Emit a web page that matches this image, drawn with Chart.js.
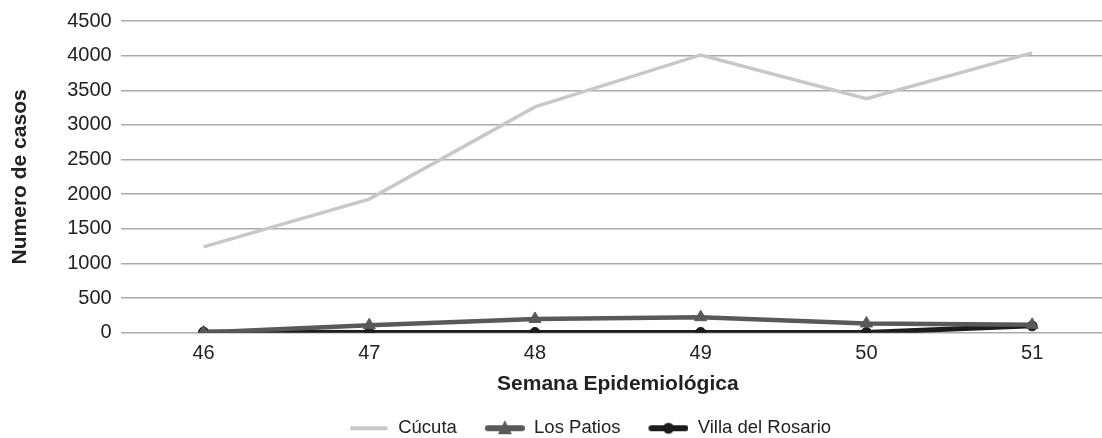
<!DOCTYPE html>
<html>
<head>
<meta charset="utf-8">
<script src="https://cdn.jsdelivr.net/npm/chart.js@4"></script>
<style>
  html, body { margin: 0; padding: 0; background: #fff; overflow: hidden; }
  #wrap { width: 1166px; height: 438px; }
</style>
</head>
<body>
<div id="wrap"><canvas id="casesChart" width="1166" height="438"></canvas></div>
<script>
// weeks and cases
const weeks = ['46', '47', '48', '49', '50', '51'];
const cucuta = [1240, 1930, 3260, 4010, 3380, 4040];
const losPatios = [5, 110, 200, 225, 135, 115];
const villaRosario = [10, 5, 5, 5, 5, 100];
const yTicks = [0, 500, 1000, 1500, 2000, 2500, 3000, 3500, 4000, 4500];

const FONT = '"Liberation Sans", Arial, sans-serif';

// little legend swatch: line with a marker in the middle (a bit of blank room on the left)
function swatch(color, width, marker) {
  const c = document.createElement('canvas');
  c.width = 46; c.height = 18;
  const g = c.getContext('2d');
  g.strokeStyle = color;
  g.fillStyle = color;
  g.lineWidth = width;
  g.lineCap = 'round';
  g.beginPath(); g.moveTo(9, 9); g.lineTo(43, 9); g.stroke();
  if (marker === 'triangle') {
    g.beginPath(); g.moveTo(26, 1); g.lineTo(33, 15); g.lineTo(19, 15); g.closePath(); g.fill();
  } else if (marker === 'circle') {
    g.beginPath(); g.arc(26, 9, 5.5, 0, Math.PI * 2); g.fill();
  }
  return c;
}

const swatches = [
  swatch('#c8c8c8', 4, null),
  swatch('#595959', 6, 'triangle'),
  swatch('#1c1c1c', 6, 'circle')
];

const ctx = document.getElementById('casesChart').getContext('2d');
const chart = new Chart(ctx, {
  type: 'line',
  data: {
    labels: weeks,
    datasets: [
      {
        label: 'Cúcuta',
        data: cucuta,
        borderColor: '#c8c8c8',
        backgroundColor: '#c8c8c8',
        borderWidth: 3.5,
        pointRadius: 0,
        tension: 0
      },
      {
        label: 'Los Patios',
        data: losPatios,
        borderColor: '#595959',
        backgroundColor: '#595959',
        borderWidth: 4.5,
        pointStyle: 'triangle',
        pointRadius: 7,
        pointBorderWidth: 1,
        tension: 0
      },
      {
        label: 'Villa del Rosario',
        data: villaRosario,
        borderColor: '#1c1c1c',
        backgroundColor: '#1c1c1c',
        borderWidth: 5,
        pointStyle: 'circle',
        pointRadius: 5,
        pointBorderWidth: 1,
        tension: 0
      }
    ]
  },
  options: {
    responsive: false,
    animation: false,
    layout: { padding: { top: 15, right: 0, left: 8, bottom: 0 } },
    plugins: {
      tooltip: { enabled: false },
      legend: {
        position: 'bottom',
        maxHeight: 41,
        labels: {
          usePointStyle: true,
          pointStyleWidth: 46,
          boxHeight: 18,
          color: '#222',
          font: { family: FONT, size: 18.5 },
          padding: 22,
          generateLabels: (ch) => ch.data.datasets.map((ds, i) => ({
            text: ds.label,
            pointStyle: swatches[i],
            datasetIndex: i,
            fontColor: '#222',
            lineWidth: 0,
            strokeStyle: 'transparent',
            fillStyle: 'transparent'
          }))
        }
      }
    },
    scales: {
      x: {
        offset: true,
        grid: { display: false, drawTicks: false },
        border: { display: false },
        ticks: { color: '#222', font: { family: FONT, size: 20 }, padding: 9 },
        title: {
          display: true,
          text: 'Semana Epidemiológica',
          color: '#222',
          font: { family: FONT, size: 21, weight: 'bold' },
          padding: { top: -3, bottom: 0 }
        }
      },
      y: {
        min: 0,
        max: 4500,
        afterBuildTicks: (axis) => { axis.ticks = yTicks.map(v => ({ value: v })); },
        grid: { color: '#aaaaaa', lineWidth: 1.5, drawTicks: false },
        border: { display: false },
        ticks: {
          color: '#222',
          font: { family: FONT, size: 20 },
          padding: 9,
          callback: (v) => String(v)
        },
        title: {
          display: true,
          text: 'Numero de casos',
          color: '#222',
          font: { family: FONT, size: 21, weight: 'bold' },
          padding: { top: 0, bottom: 25 }
        }
      },
      // empty strip on the right so the plot runs past the window edge like the original
      yRight: {
        position: 'right',
        grid: { display: false, drawTicks: false },
        border: { display: false },
        ticks: { display: false },
        afterFit: (axis) => { axis.width = 51; }
      }
    }
  }
});
</script>
</body>
</html>
